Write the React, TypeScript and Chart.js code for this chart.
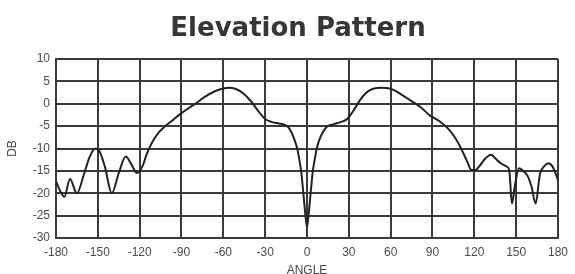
import React, { useEffect, useRef } from "react";
import { Chart, registerables } from "chart.js";

Chart.register(...registerables);

const chartTitle = "Elevation Pattern";
const xAxisTitle = "ANGLE";
const yAxisTitle = "DB";

const angles = [
  -180, -177, -174, -170, -165, -160, -156, -152, -149, -145, -140, -135, -130, -126, -122, -118,
  -115, -111, -106, -102, -96, -90, -85, -80, -73, -66, -60, -56, -51, -46, -40, -35, -30, -25,
  -20, -16, -13, -10, -7, -5.5, -4.2, -2.6, -1.1, 0, 1.1, 2.6, 4.2, 5.5, 7, 10, 14, 19, 24, 28, 31, 34, 38, 43, 48, 53, 57, 62,
  68, 75, 82, 88, 95, 101, 106, 111, 115, 118, 121, 124, 128, 132, 135, 139, 143, 145, 147, 149,
  152, 155, 158, 161, 164, 167, 170, 173, 176, 180,
];

const gainDb = [
  -17.3, -19.5, -20.8, -16.8, -20, -15.8, -12, -10, -10.5, -14, -20, -15.5, -11.8, -13.5, -15.5, -14,
  -11.3, -8.6, -6.3, -5.1, -3.6, -2.1, -1.0, 0, 1.6, 2.8, 3.4, 3.6, 3.3, 2.4, 0.5, -1.6, -3.4, -4.1,
  -4.4, -4.7, -5.4, -7.2, -10, -12.5, -15, -20, -25, -27.5, -25, -20, -15, -12.5, -10, -7.2, -5.2, -4.6, -4.1, -3.6, -2.6, -1.2, 0.8, 2.6, 3.4, 3.6, 3.5, 3.1,
  2.0, 0.6, -0.9, -2.6, -3.9, -5.5, -7.5, -10.3, -13, -14.8, -14.8, -13.8, -12.2, -11.4, -12.2, -13.3, -14, -14.8, -22.3, -18.5,
  -14.4, -15, -16, -18.5, -22.3, -15.8, -14, -13.3, -14, -17,
];

const xTicks = [-180, -150, -120, -90, -60, -30, 0, 30, 60, 90, 120, 150, 180];
const yTicks = [10, 5, 0, -5, -10, -15, -20, -25, -30];

const titlePlugin = {
  id: "customTitle",
  afterDraw(chart: any) {
    const { ctx, chartArea } = chart;
    ctx.save();
    ctx.font = "bold 26px 'DejaVu Sans'";
    ctx.fillStyle = "#363636";
    ctx.textAlign = "center";
    ctx.textBaseline = "alphabetic";
    ctx.fillText(chartTitle, (chartArea.left + chartArea.right) / 2 - 9, 36);
    ctx.restore();
  },
};

export default function App() {
  const ref = useRef<HTMLCanvasElement | null>(null);

  useEffect(() => {
    if (!ref.current) return;
    const points = angles.map((a, i) => ({ x: a, y: gainDb[i] }));
    const gridColor = "#3a3a3a";
    const tickFont = { family: "'Liberation Sans', Arial, sans-serif", size: 12 };
    const chart = new Chart(ref.current, {
      type: "line",
      data: {
        datasets: [
          {
            data: points,
            borderColor: "#222222",
            borderWidth: 2,
            borderJoinStyle: "round",
            pointRadius: 0,
            fill: false,
            cubicInterpolationMode: "monotone",
          },
        ],
      },
      plugins: [titlePlugin],
      options: {
        animation: false,
        responsive: false,
        events: [],
        layout: { padding: { top: 59, right: 8, left: 0, bottom: 0 } },
        plugins: {
          legend: { display: false },
          title: { display: false },
          tooltip: { enabled: false },
        },
        scales: {
          x: {
            type: "linear",
            min: -180,
            max: 180,
            afterBuildTicks: (s: any) => {
              s.ticks = xTicks.map((v) => ({ value: v }));
            },
            afterFit: (s: any) => {
              s.height = 36;
            },
            ticks: { color: "#4a4a4a", font: tickFont, padding: 7, maxRotation: 0 },
            grid: { color: gridColor, lineWidth: 2, drawTicks: false },
            border: { color: gridColor, width: 2 },
            title: {
              display: true,
              text: xAxisTitle,
              color: "#444444",
              font: tickFont,
              padding: { top: 0, bottom: -4 },
            },
          },
          y: {
            type: "linear",
            min: -30,
            max: 10,
            afterBuildTicks: (s: any) => {
              s.ticks = yTicks.map((v) => ({ value: v }));
            },
            afterFit: (s: any) => {
              s.width = 56;
            },
            ticks: { color: "#4a4a4a", font: tickFont, padding: 6 },
            grid: { color: gridColor, lineWidth: 2, drawTicks: false },
            border: { color: gridColor, width: 2 },
            title: {
              display: true,
              text: yAxisTitle,
              color: "#444444",
              font: tickFont,
              padding: { top: 5, bottom: 0 },
            },
          },
        },
      },
    });
    return () => chart.destroy();
  }, []);

  return (
    <div style={{ position: "absolute", left: 0, top: 0, width: 575, height: 274, background: "#fff" }}>
      <canvas ref={ref} width={575} height={274} />
    </div>
  );
}
